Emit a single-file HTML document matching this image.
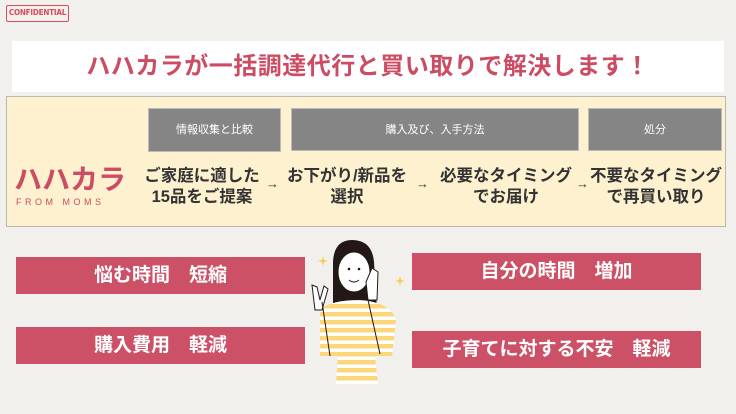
<!DOCTYPE html>
<html><head><meta charset="utf-8"><style>
*{margin:0;padding:0;box-sizing:border-box}
body{width:736px;height:414px;background:#f1f0ed;position:relative;overflow:hidden;font-family:"Liberation Sans","Noto Sans CJK JP",sans-serif}
.a{position:absolute}
.conf{left:6px;top:5px;width:63px;height:17px;border:1.5px solid #d94a5a;border-radius:2px;color:#d94a5a;font-size:8px;font-weight:bold;text-align:center;line-height:14px;letter-spacing:-.2px;font-family:"DejaVu Sans Condensed","Liberation Sans Narrow",sans-serif}
.title{left:12px;top:41px;width:712px;height:51px;background:#fff;color:#cc4c64;font-size:24px;font-weight:bold;text-align:center;line-height:51px;letter-spacing:.5px}
.panel{left:6px;top:96px;width:720px;height:131px;background:#fdf1cf;border:1px solid #b9b9b0}
.g{background:#858585;color:#fff;font-size:11px;text-align:center;line-height:43px;border:1px solid #bbb}
.st{font-size:16.5px;font-weight:bold;color:#333;text-align:center;line-height:21px;white-space:nowrap}
.ar{font-size:13px;color:#333;font-weight:bold}
.bar{background:#cc5166;color:#fff;font-size:19px;font-weight:bold;text-align:center;line-height:37px;white-space:pre}
</style></head><body>
<div class="a conf">CONFIDENTIAL</div>
<div class="a title">ハハカラが一括調達代行と買い取りで解決します！</div>
<div class="a panel"></div>
<div class="a g" style="left:148px;top:108px;width:133px;height:44px">情報収集と比較</div>
<div class="a g" style="left:291px;top:108px;width:288px;height:43px">購入及び、入手方法</div>
<div class="a g" style="left:588px;top:108px;width:134px;height:43px">処分</div>
<div class="a" style="left:14px;top:164px;color:#cc4c64;font-size:28px;font-weight:bold;letter-spacing:0;line-height:32px">ハハカラ</div>
<div class="a" style="left:16px;top:197px;color:#cc4c64;font-size:9px;letter-spacing:3.5px">FROM MOMS</div>
<div class="a st" style="left:138px;top:166px;width:128px">ご家庭に適した<br>15品をご提案</div>
<div class="a ar" style="left:266px;top:176px">→</div>
<div class="a st" style="left:280px;top:166px;width:134px">お下がり/新品を<br>選択</div>
<div class="a ar" style="left:416px;top:176px">→</div>
<div class="a st" style="left:436px;top:166px;width:140px">必要なタイミング<br>でお届け</div>
<div class="a ar" style="left:576px;top:176px">→</div>
<div class="a st" style="left:588px;top:166px;width:136px">不要なタイミング<br>で再買い取り</div>
<div class="a bar" style="left:16px;top:257px;width:289px">悩む時間　短縮</div>
<div class="a bar" style="left:16px;top:327px;width:289px">購入費用　軽減</div>
<div class="a bar" style="left:412px;top:253px;width:289px">自分の時間　増加</div>
<div class="a bar" style="left:412px;top:331px;width:289px">子育てに対する不安　軽減</div>
<svg class="a" style="left:300px;top:236px" width="110" height="150" viewBox="300 236 110 150">
<defs><pattern id="s" width="10" height="8" patternUnits="userSpaceOnUse"><rect width="10" height="8" fill="#fff"/><rect width="10" height="4.5" fill="#fbd77a"/></pattern></defs>
<path d="M333 262 Q334 240 352 240 Q372 240 374 262 L377 310 L333 310 Z" fill="#231815"/>
<path d="M320 310 Q330 300 360 300 Q390 302 396 320 L392 356 L375 356 L378 384 L336 384 L338 356 L320 356 Z" fill="url(#s)"/>
<ellipse cx="354" cy="272" rx="16" ry="20" fill="#fff" stroke="#231815"/>
<circle cx="349" cy="269" r="1.3" fill="#231815"/><circle cx="359" cy="269" r="1.3" fill="#231815"/>
<path d="M349 280 Q354 284 359 280" stroke="#231815" fill="none"/>
<path d="M315 310 L312 285 L317 287 L320 300 L324 286 L328 289 L322 310 Z" fill="#fff" stroke="#231815"/>
<path d="M366 282 L372 268 L378 272 L377 300 L368 300 Z" fill="#fff" stroke="#231815"/>
<path d="M322 302 L330 356 M368 300 L380 354" stroke="#231815" fill="none"/>
<path d="M322 260 l1 -4 l1 4 l4 1 l-4 1 l-1 4 l-1 -4 l-4 -1 z M399 280 l1 -4 l1 4 l4 1 l-4 1 l-1 4 l-1 -4 l-4 -1 z" fill="#f4cc4b"/>
</svg>
</body></html>
